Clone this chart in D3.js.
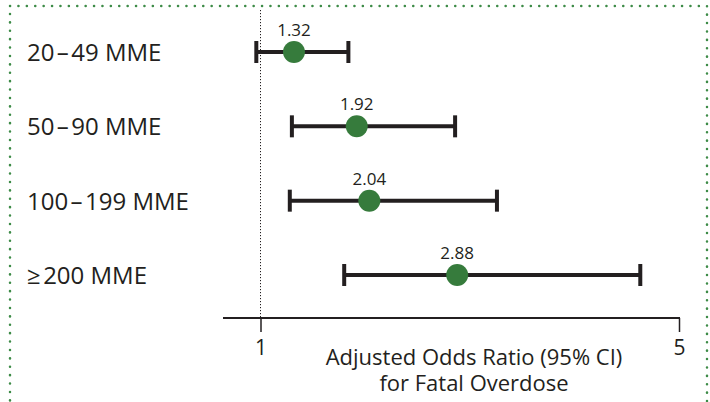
<!DOCTYPE html>
<html>
<head>
<meta charset="utf-8">
<script src="https://cdn.jsdelivr.net/npm/d3@7"></script>
<style>
  body { margin: 0; background: #fff; }
  svg text { font-family: "Open Sans", "Noto Sans", sans-serif; fill: #231f20; }
</style>
</head>
<body>
<script>
// Chart data
var categories = ["20\u200a\u2013\u200a49 MME", "50\u200a\u2013\u200a90 MME", "100\u200a\u2013\u200a199 MME", "\u2265\u200a200 MME"];
var oddsRatio = [1.32, 1.92, 2.04, 2.88];
var ciLow = [0.96, 1.30, 1.28, 1.80];
var ciHigh = [1.84, 2.86, 3.26, 4.63];
var xTicks = [1, 5];
var titleLines = ["Adjusted Odds Ratio (95% CI)", "for Fatal Overdose"];

var width = 710,
    height = 402;

var svg = d3.select("body")
    .append("svg")
    .attr("width", width)
    .attr("height", height);

// Dotted green frame
svg.append("rect")
    .attr("x", 10)
    .attr("y", 6)
    .attr("width", 697)
    .attr("height", 420)
    .attr("fill", "none")
    .attr("stroke", "#3d8b47")
    .attr("stroke-width", 2.5)
    .attr("stroke-linecap", "round")
    .attr("stroke-dasharray", "0.1 8.3");

// Scales
var x = d3.scaleLinear()
    .domain([1, 5])
    .range([260.5, 679]);

var y = d3.scalePoint()
    .domain(categories)
    .range([52, 275]);

var axisY = 318;

// Reference line at OR = 1
svg.append("line")
    .attr("x1", x(1))
    .attr("x2", x(1))
    .attr("y1", 10)
    .attr("y2", axisY)
    .attr("stroke", "#231f20")
    .attr("stroke-width", 1)
    .attr("stroke-dasharray", "1.2 1.8");

// X axis
var axis = svg.append("g")
    .attr("transform", "translate(0," + axisY + ")")
    .call(d3.axisBottom(x).tickValues(xTicks).tickSize(14).tickSizeOuter(0).tickPadding(8).tickFormat(d3.format("d")));

axis.select(".domain").remove();
axis.append("line")
    .attr("x1", 223)
    .attr("x2", x(5) + 1)
    .attr("stroke", "#231f20")
    .attr("stroke-width", 2);
axis.selectAll(".tick line")
    .attr("stroke", "#231f20")
    .attr("stroke-width", 1.5);
axis.selectAll(".tick text")
    .attr("font-size", 21)
    .attr("fill", "#231f20")
    .style("font-family", "'Open Sans', sans-serif");

// Axis title (two lines)
svg.append("text")
    .attr("x", 474)
    .attr("y", 365)
    .attr("text-anchor", "middle")
    .attr("font-size", 22)
    .selectAll("tspan")
    .data(titleLines)
    .enter()
    .append("tspan")
    .attr("x", 474)
    .attr("dy", function(d, i) { return i === 0 ? 0 : 25.5; })
    .text(function(d) { return d; });

// Row labels
svg.selectAll(".cat")
    .data(categories)
    .enter()
    .append("text")
    .attr("class", "cat")
    .attr("x", 27)
    .attr("y", function(d) { return y(d) + 9; })
    .attr("font-size", 24)
    .text(function(d) { return d; });

var rows = categories.map(function(c, i) {
    return { cat: c, or: oddsRatio[i], lo: ciLow[i], hi: ciHigh[i] };
});

// CI bars
svg.selectAll(".ci")
    .data(rows)
    .enter()
    .append("line")
    .attr("class", "ci")
    .attr("x1", function(d) { return x(d.lo); })
    .attr("x2", function(d) { return x(d.hi); })
    .attr("y1", function(d) { return y(d.cat); })
    .attr("y2", function(d) { return y(d.cat); })
    .attr("stroke", "#231f20")
    .attr("stroke-width", 4);

["lo", "hi"].forEach(function(k) {
    svg.selectAll(".cap-" + k)
        .data(rows)
        .enter()
        .append("line")
        .attr("class", "cap-" + k)
        .attr("x1", function(d) { return x(d[k]); })
        .attr("x2", function(d) { return x(d[k]); })
        .attr("y1", function(d) { return y(d.cat) - 11; })
        .attr("y2", function(d) { return y(d.cat) + 11; })
        .attr("stroke", "#231f20")
        .attr("stroke-width", 4);
});

// Point estimates
svg.selectAll(".dot")
    .data(rows)
    .enter()
    .append("circle")
    .attr("class", "dot")
    .attr("cx", function(d) { return x(d.or); })
    .attr("cy", function(d) { return y(d.cat); })
    .attr("r", 11)
    .attr("fill", "#367b3c");

svg.selectAll(".val")
    .data(rows)
    .enter()
    .append("text")
    .attr("class", "val")
    .attr("x", function(d) { return x(d.or); })
    .attr("y", function(d) { return y(d.cat) - 16; })
    .attr("text-anchor", "middle")
    .attr("font-size", 17)
    .text(function(d) { return d.or.toFixed(2); });
</script>
</body>
</html>
